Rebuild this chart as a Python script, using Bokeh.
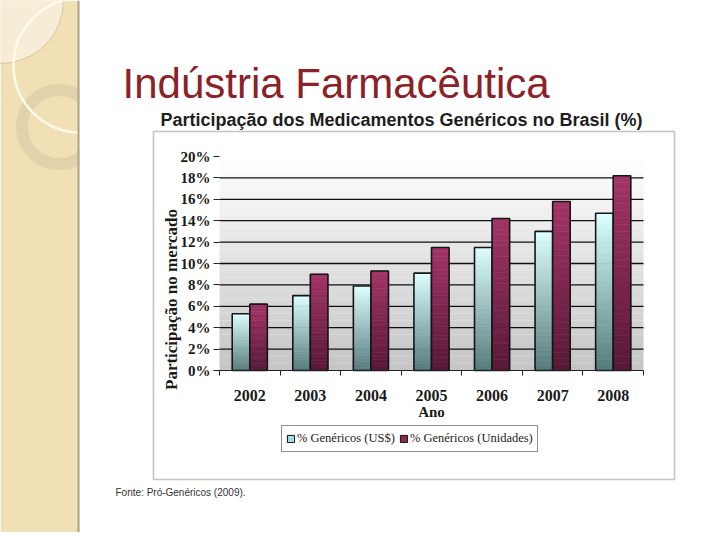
import numpy as np
from bokeh.plotting import figure
from bokeh.models import (FixedTicker, PrintfTickFormatter, Label, BoxAnnotation,
                          Legend, LegendItem, Range1d, ColumnDataSource)
from bokeh.embed import file_html
from bokeh.resources import INLINE

# ---------------- data ----------------
years = ["2002", "2003", "2004", "2005", "2006", "2007", "2008"]
usd_share = [5.3, 7.0, 7.9, 9.1, 11.5, 13.0, 14.7]      # % Genéricos (US$)
unit_share = [6.2, 9.0, 9.3, 11.5, 14.2, 15.8, 18.2]    # % Genéricos (Unidades)
y_ticks = [0, 2, 4, 6, 8, 10, 12, 14, 16, 18, 20]
grid_ticks = [2, 4, 6, 8, 10, 12, 14, 16, 18]
series_names = ["% Genéricos (US$)", "% Genéricos (Unidades)"]
slide_title = "Indústria Farmacêutica"
chart_title = "Participação dos Medicamentos Genéricos no Brasil (%)"
y_title = "Participação no mercado"
x_title = "Ano"
source_note = "Fonte: Pró-Genéricos (2009)."

SERIF = "Liberation Serif"
SANS = "Liberation Sans"

# ---------------- layout (picture pixel coordinates) ----------------
W, H = 712, 532
PX0, PY0 = 0, 0
FL, FR, FT, FB = 219, 643, 156, 370   # bar plot area
NCAT = len(years)
YMAX = 20
sx = (FR - FL) / NCAT
sy = (FB - FT) / YMAX

x_lo = (PX0 - FL) / sx
x_hi = (PX0 + W - FL) / sx
y_lo = (FB - (PY0 + H)) / sy
y_hi = (FB - PY0) / sy

p = figure(width=W, height=H, output_backend="svg", toolbar_location=None,
           x_range=Range1d(x_lo, x_hi), y_range=Range1d(y_lo, y_hi),
           min_border=0, outline_line_color=None,
           background_fill_color="white", border_fill_color="white")
p.extra_x_ranges = {"px": Range1d(PX0, PX0 + W)}
p.extra_y_ranges = {"py": Range1d(PY0 + H, PY0)}
PG = dict(x_range_name="px", y_range_name="py")


def scr_x(px):
    return px - PX0


def scr_y(py):
    return PY0 + H - py


# ---------------- decorative left band ----------------
p.quad(left=[0], right=[79], top=[0], bottom=[560], fill_color="#f1e0b5",
       line_color=None, **PG)
p.circle(x=[0], y=[0], radius=63, fill_color="#f7ecd5", line_color="#cdbd9c",
         line_width=0.8, **PG)
p.circle(x=[58.5], y=[126.5], radius=37, fill_alpha=0, line_color="#dccca6",
         line_width=12, line_alpha=0.7, **PG)
p.circle(x=[80], y=[65], radius=67, fill_alpha=0, line_color="#fffbea",
         line_width=2.5, **PG)
p.quad(left=[79], right=[160], top=[0], bottom=[200], fill_color="white",
       line_color=None, **PG)
p.segment(x0=[78], y0=[0], x1=[78], y1=[560], line_color="#b3a384", line_width=2, **PG)

# ---------------- chart frame box ----------------
p.add_layout(BoxAnnotation(left=scr_x(153), right=scr_x(674), top=scr_y(131),
                           bottom=scr_y(479), left_units="screen", right_units="screen",
                           top_units="screen", bottom_units="screen",
                           fill_alpha=0, line_color="#3a3a3a", line_width=1.6))

# ---------------- plot area gradient background ----------------
nb = 30
for k in range(nb):
    t = (k + 0.5) / nb
    g = int(round(196 + (255 - 196) * t))
    p.add_layout(BoxAnnotation(left=0, right=NCAT, bottom=YMAX * k / nb,
                               top=YMAX * (k + 1) / nb, fill_color=(g, g, g),
                               fill_alpha=1.0, line_color=None, level="underlay"))

# grid lines
p.segment(x0=[0] * len(grid_ticks), x1=[NCAT] * len(grid_ticks), y0=grid_ticks,
          y1=grid_ticks, line_color="#111111", line_width=1.3)
p.grid.visible = False


# ---------------- gradient bars ----------------
def hex2rgb(h):
    h = h.lstrip("#")
    return np.array([int(h[i:i + 2], 16) for i in (0, 2, 4)], dtype=float)


def mix(c0, c1, t):
    c = c0 + (c1 - c0) * t
    return "#%02x%02x%02x" % tuple(int(round(v)) for v in c)


series = [
    (usd_share, -0.145, "#557a7c", "#dcffff", "#a8dcdc"),
    (unit_share, 0.145, "#581836", "#a33468", "#8a2852"),
]
N = 28
BW = 0.29
legend_items = []
for (vals, off, cbot, ctop, csw), name in zip(series, series_names):
    xs, bots, tops, cols = [], [], [], []
    c0, c1 = hex2rgb(cbot), hex2rgb(ctop)
    for i, v in enumerate(vals):
        for k in range(N):
            xs.append(i + 0.5 + off)
            bots.append(v * k / N)
            tops.append(v * (k + 1) / N)
            cols.append(mix(c0, c1, (k + 0.5) / N))
    src = ColumnDataSource(dict(x=xs, bottom=bots, top=tops, color=cols))
    p.vbar(x="x", bottom="bottom", top="top", width=BW, fill_color="color",
           line_color="color", line_width=0.5, source=src)
    osrc = ColumnDataSource(dict(x=[i + 0.5 + off for i in range(len(vals))], top=vals))
    p.vbar(x="x", top="top", bottom=0, width=BW, fill_alpha=0, line_color="#151515",
           line_width=1.6, source=osrc)
    sw = p.vbar(x="x", top="top", bottom=0, width=BW, fill_color=csw,
                line_color="#111111", line_width=1, source=osrc, visible=False)
    legend_items.append(LegendItem(label=name, renderers=[sw]))

# ---------------- axes (fixed inside the canvas) ----------------
p.yaxis.fixed_location = 0
p.yaxis.bounds = (0, YMAX)
p.yaxis.ticker = FixedTicker(ticks=y_ticks, minor_ticks=[])
p.yaxis.formatter = PrintfTickFormatter(format="%d%%")
p.yaxis.axis_line_color = None
p.yaxis.major_tick_out = 6
p.yaxis.major_tick_in = 0
p.yaxis.major_tick_line_color = "#222222"
p.yaxis.major_label_standoff = 3
p.yaxis.major_label_text_font = SERIF
p.yaxis.major_label_text_font_style = "bold"
p.yaxis.major_label_text_font_size = "15px"
p.yaxis.major_label_text_color = "#1a1a1a"

p.xaxis.fixed_location = 0
p.xaxis.bounds = (0, NCAT)
p.xaxis.ticker = FixedTicker(ticks=[i + 0.5 for i in range(NCAT)],
                             minor_ticks=list(range(NCAT + 1)))
p.xaxis.major_label_overrides = {i + 0.5: y for i, y in enumerate(years)}
p.xaxis.major_tick_line_color = None
p.xaxis.major_tick_out = 0
p.xaxis.minor_tick_out = 5
p.xaxis.minor_tick_in = 0
p.xaxis.minor_tick_line_color = "#222222"
p.xaxis.axis_line_color = "#222222"
p.xaxis.axis_line_width = 1
p.xaxis.major_label_standoff = 14
p.xaxis.major_label_text_font = SERIF
p.xaxis.major_label_text_font_style = "bold"
p.xaxis.major_label_text_font_size = "16px"
p.xaxis.major_label_text_color = "#1a1a1a"
p.xaxis.axis_label = x_title
p.xaxis.axis_label_text_font = SERIF
p.xaxis.axis_label_text_font_style = "bold"
p.xaxis.axis_label_text_font_size = "15px"
p.xaxis.axis_label_text_color = "#1a1a1a"
p.xaxis.axis_label_standoff = 0

# ---------------- legend ----------------
leg = Legend(items=legend_items, orientation="horizontal",
             location=(scr_x(281), scr_y(452)),
             glyph_width=9, glyph_height=9, label_standoff=2, spacing=4,
             padding=4, margin=0,
             label_text_font=SERIF, label_text_font_size="12.5px",
             label_text_color="#222222", label_height=17,
             border_line_color="#222222", border_line_width=1,
             background_fill_color="white", background_fill_alpha=1)
p.add_layout(leg, "center")

# ---------------- texts ----------------
p.add_layout(Label(x=scr_x(122), y=scr_y(83), x_units="screen", y_units="screen",
                   text=slide_title, text_font=SANS, text_font_size="42px",
                   text_color="#8c2227", text_baseline="alphabetic", text_align="left"))
p.add_layout(Label(x=scr_x(401), y=scr_y(119), x_units="screen", y_units="screen",
                   text=chart_title, text_font=SANS, text_font_style="bold",
                   text_font_size="18px", text_color="#1e1e1e",
                   text_baseline="middle", text_align="center"))
p.add_layout(Label(x=scr_x(171), y=scr_y(299), x_units="screen", y_units="screen",
                   text=y_title, text_font=SERIF, text_font_style="bold",
                   text_font_size="17px", text_color="#1a1a1a", angle=np.pi / 2,
                   text_baseline="middle", text_align="center"))
p.add_layout(Label(x=scr_x(115), y=scr_y(492), x_units="screen", y_units="screen",
                   text=source_note, text_font=SANS, text_font_size="10px",
                   text_color="#333333", text_baseline="alphabetic", text_align="left"))

open("out.html", "w").write(file_html(p, INLINE))
